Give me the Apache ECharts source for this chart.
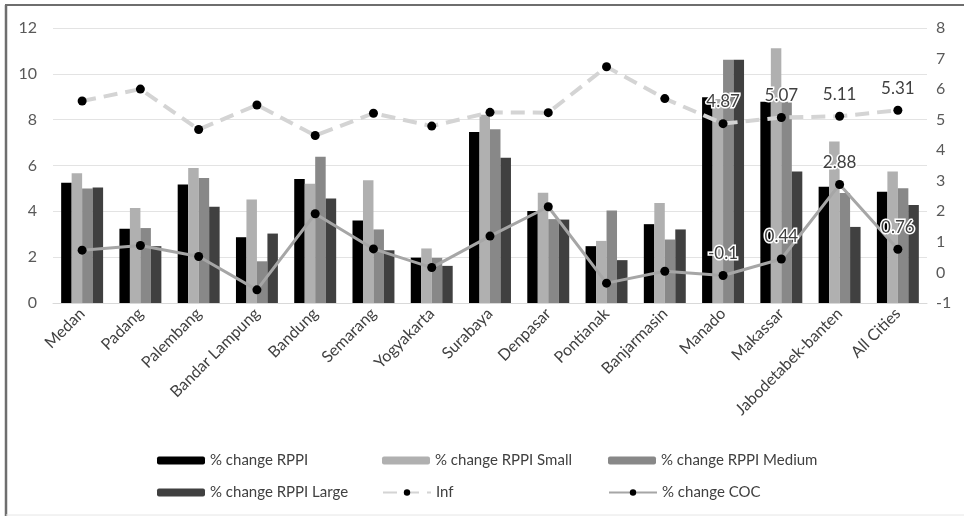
<!DOCTYPE html>
<html>
<head>
<meta charset="utf-8">
<script src="https://cdn.jsdelivr.net/npm/echarts@6/dist/echarts.min.js"></script>
<style>
html,body{margin:0;padding:0;background:#fff;}
#c{width:964px;height:516px;}
</style>
</head>
<body>
<div id="c"></div>
<script>
const categories = ['Medan','Padang','Palembang','Bandar Lampung','Bandung','Semarang','Yogyakarta','Surabaya','Denpasar','Pontianak','Banjarmasin','Manado','Makassar','Jabodetabek-banten','All Cities'];
const rppi       = [5.25, 3.24, 5.17, 2.87, 5.41, 3.60, 1.98, 7.46, 4.02, 2.48, 3.44, 8.98, 8.78, 5.07, 4.86];
const rppiSmall  = [5.66, 4.15, 5.89, 4.52, 5.20, 5.36, 2.38, 8.21, 4.81, 2.71, 4.36, 8.90, 11.12, 7.05, 5.74];
const rppiMedium = [5.00, 3.27, 5.45, 1.82, 6.38, 3.21, 1.97, 7.58, 3.66, 4.04, 2.77, 10.61, 8.78, 4.80, 5.01];
const rppiLarge  = [5.04, 2.48, 4.20, 3.03, 4.56, 2.30, 1.62, 6.34, 3.64, 1.87, 3.21, 10.61, 5.74, 3.32, 4.28];
const inf        = [5.61, 6.00, 4.68, 5.48, 4.48, 5.21, 4.79, 5.24, 5.23, 6.73, 5.69, 4.87, 5.07, 5.11, 5.31];
const coc        = [0.73, 0.88, 0.52, -0.57, 1.92, 0.77, 0.16, 1.19, 2.15, -0.35, 0.04, -0.10, 0.44, 2.88, 0.76];
const labelledFrom = 11;

const FONT = 'Lato';
const chart = echarts.init(document.getElementById('c'), null, {renderer:'canvas'});

function withLabels(arr){
  return arr.map((v,i)=> i>=labelledFrom ? {value:v, label:{show:true}} : v);
}

const legendBase = {padding:0, itemWidth:48, itemHeight:8, itemGap:5,
  textStyle:{fontFamily:FONT, fontSize:15, color:'#404040'}};
function lg(name,left,top){ return Object.assign({}, legendBase, {data:[name], left:left, top:top}); }

const dataLabel = {show:false, position:'top', distance:9, fontFamily:FONT, fontSize:17, color:'#404040',
  textBorderColor:'#fff', textBorderWidth:3};

chart.setOption({
  animation:false,
  backgroundColor:'#fff',
  graphic:[
    {type:'line', shape:{x1:5, y1:5, x2:964, y2:5}, style:{stroke:'#6e6e6e', lineWidth:2}},
    {type:'line', shape:{x1:6, y1:5, x2:6, y2:516}, style:{stroke:'#6e6e6e', lineWidth:2.5}},
    {type:'line', shape:{x1:6, y1:515, x2:964, y2:515}, style:{stroke:'#e6e6e6', lineWidth:1}}
  ],
  grid:{left:53, right:37, top:28, bottom:213, containLabel:false},
  legend:[
    lg('% change RPPI',157,453),
    lg('% change RPPI Small',382,453),
    lg('% change RPPI Medium',608,453),
    lg('% change RPPI Large',157,485),
    lg('Inf',382,485),
    lg('% change COC',608,485)
  ],
  xAxis:{
    type:'category', data:categories,
    axisLine:{show:true, lineStyle:{color:'#d9d9d9'}},
    axisTick:{show:false},
    axisLabel:{rotate:45, fontFamily:FONT, fontSize:16, color:'#404040', margin:8, interval:0}
  },
  yAxis:[
    {type:'value', min:0, max:12, interval:2,
     axisLine:{show:false}, axisTick:{show:false},
     splitLine:{lineStyle:{color:'#e3e3e3'}},
     axisLabel:{fontFamily:FONT, fontSize:16, color:'#595959', margin:16}},
    {type:'value', min:-1, max:8, interval:1,
     axisLine:{show:false}, axisTick:{show:false}, splitLine:{show:false},
     axisLabel:{fontFamily:FONT, fontSize:16, color:'#595959', margin:9}}
  ],
  series:[
    {name:'% change RPPI', type:'bar', data:rppi, barGap:'0%', barCategoryGap:'28%', itemStyle:{color:'#000000'}},
    {name:'% change RPPI Small', type:'bar', data:rppiSmall, itemStyle:{color:'#b0b0b0'}},
    {name:'% change RPPI Medium', type:'bar', data:rppiMedium, itemStyle:{color:'#888888'}},
    {name:'% change RPPI Large', type:'bar', data:rppiLarge, itemStyle:{color:'#404040'}},
    {name:'Inf', type:'line', yAxisIndex:1, data:withLabels(inf), symbol:'circle', symbolSize:9,
     itemStyle:{color:'#000'}, lineStyle:{color:'#d4d4d4', width:4, type:[14,8]},
     label:dataLabel, z:5},
    {name:'% change COC', type:'line', yAxisIndex:1, data:withLabels(coc), symbol:'circle', symbolSize:9,
     itemStyle:{color:'#000'}, lineStyle:{color:'#a6a6a6', width:3},
     label:dataLabel, z:5}
  ]
});
</script>
</body>
</html>
